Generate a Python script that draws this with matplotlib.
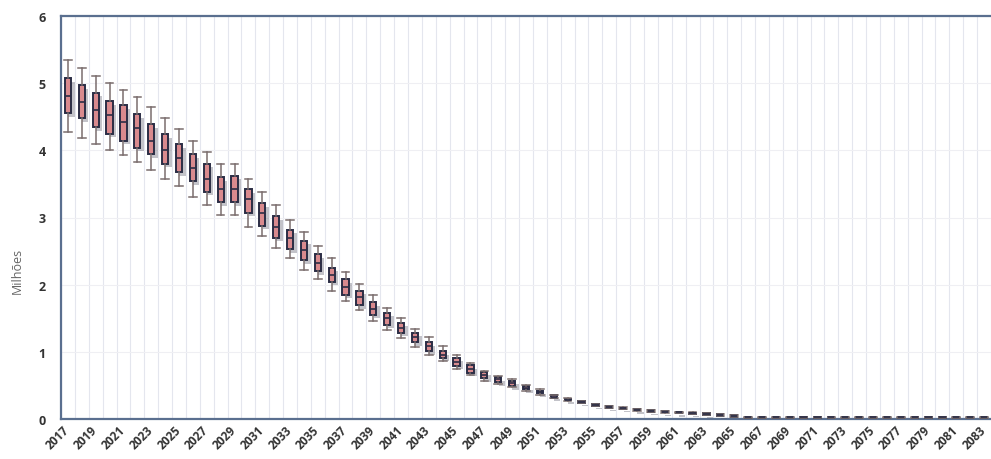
import matplotlib
matplotlib.use("Agg")
import matplotlib.pyplot as plt
import matplotlib.patheffects as pe
import matplotlib.transforms as mtransforms
import numpy as np

years = list(range(2017, 2084))

whislo = [4.28, 4.19, 4.10, 4.00, 3.93, 3.83, 3.71, 3.58, 3.47, 3.30,
          3.19, 3.03, 3.03, 2.86, 2.72, 2.55, 2.40, 2.22, 2.09, 1.91,
          1.75, 1.62, 1.46, 1.32, 1.20, 1.07, 0.96, 0.86, 0.75, 0.65,
          0.57, 0.52, 0.47, 0.42, 0.36, 0.31, 0.27, 0.232, 0.195, 0.165,
          0.145, 0.125, 0.108, 0.095, 0.085, 0.073, 0.06, 0.05, 0.035] + [0.015] * 18
q1 = [4.55, 4.48, 4.34, 4.25, 4.14, 4.04, 3.94, 3.80, 3.67, 3.54,
      3.38, 3.23, 3.23, 3.07, 2.88, 2.70, 2.53, 2.36, 2.20, 2.04,
      1.85, 1.69, 1.55, 1.40, 1.28, 1.14, 1.01, 0.91, 0.79, 0.69,
      0.61, 0.55, 0.49, 0.44, 0.38, 0.32, 0.28, 0.238, 0.2, 0.17,
      0.15, 0.13, 0.11, 0.098, 0.088, 0.075, 0.062, 0.052, 0.037] + [0.016] * 18
med = [4.81, 4.72, 4.60, 4.52, 4.42, 4.33, 4.14, 4.00, 3.89, 3.74,
       3.58, 3.42, 3.43, 3.27, 3.06, 2.86, 2.69, 2.51, 2.33, 2.14,
       1.97, 1.81, 1.64, 1.50, 1.35, 1.22, 1.08, 0.96, 0.85, 0.75,
       0.66, 0.59, 0.53, 0.46, 0.40, 0.33, 0.29, 0.25, 0.21, 0.18,
       0.16, 0.14, 0.12, 0.108, 0.098, 0.085, 0.072, 0.061, 0.046] + [0.025] * 18
q3 = [5.07, 4.97, 4.86, 4.73, 4.67, 4.54, 4.39, 4.24, 4.09, 3.94,
      3.80, 3.60, 3.62, 3.42, 3.21, 3.02, 2.82, 2.65, 2.45, 2.25,
      2.08, 1.91, 1.74, 1.58, 1.43, 1.28, 1.14, 1.01, 0.91, 0.80,
      0.70, 0.62, 0.57, 0.49, 0.42, 0.35, 0.305, 0.262, 0.22, 0.19,
      0.17, 0.15, 0.13, 0.118, 0.108, 0.095, 0.082, 0.07, 0.055] + [0.034] * 18
whishi = [5.35, 5.23, 5.11, 5.00, 4.90, 4.79, 4.65, 4.48, 4.32, 4.14,
          3.97, 3.80, 3.80, 3.58, 3.38, 3.19, 2.97, 2.79, 2.57, 2.40,
          2.19, 2.01, 1.84, 1.66, 1.50, 1.34, 1.22, 1.08, 0.96, 0.84,
          0.72, 0.64, 0.59, 0.51, 0.44, 0.36, 0.31, 0.265, 0.222, 0.192,
          0.172, 0.152, 0.132, 0.12, 0.11, 0.097, 0.084, 0.072, 0.057] + [0.035] * 18

ylabel = "Milhões"

plt.rcParams['font.family'] = ['Open Sans', 'DejaVu Sans']

fig = plt.figure(figsize=(9.91, 4.60), dpi=100)
ax = fig.add_axes([61 / 991, 1 - 420 / 460, 930 / 991, 403 / 460])

stats = []
for i, y in enumerate(years):
    stats.append(dict(med=med[i], q1=q1[i], q3=q3[i],
                      whislo=whislo[i], whishi=whishi[i], fliers=[], label=str(y)))

positions = np.arange(len(years))
res = ax.bxp(stats, positions=positions, widths=0.45, patch_artist=True,
             showfliers=False,
             boxprops=dict(facecolor='#d98a8e', edgecolor='#2b2d45', linewidth=1.4),
             medianprops=dict(color='#2b2d45', linewidth=1.2),
             whiskerprops=dict(color='#7a6d6d', linewidth=1.1),
             capprops=dict(color='#7a6d6d', linewidth=1.1),
             capwidths=0.55, zorder=3)
for b in res['boxes']:
    b.set_path_effects([pe.SimplePatchShadow(offset=(2.5, -2.5), shadow_rgbFace='#555566', alpha=0.35),
                        pe.Normal()])

ax.set_xlim(-0.5, len(years) - 0.5)
ax.set_ylim(0, 6)
ax.set_yticks(range(0, 7))
ax.set_xticks(positions[::2])
ax.set_xticklabels([str(y) for y in years[::2]], rotation=45, ha='right',
                   rotation_mode='anchor', fontsize=8.5, fontweight='bold', color='#333333')
ax.tick_params(axis='y', labelsize=9, colors='#333333', length=0, pad=11)
for t in ax.get_yticklabels():
    t.set_fontweight('bold')
ax.tick_params(axis='x', length=0, pad=3)

ax.set_xticks(np.arange(-0.5, len(years), 1), minor=True)
ax.grid(False)
ax.xaxis.grid(True, which='minor', color='#e4e6ee', linewidth=0.8)
ax.yaxis.grid(True, which='major', color='#efeff3', linewidth=0.8)
ax.tick_params(which='minor', length=0)
ax.set_axisbelow(True)

for s in ['left', 'top', 'bottom']:
    ax.spines[s].set_color('#5a6f8f')
    ax.spines[s].set_linewidth(1.6)
ax.spines['right'].set_visible(False)

ax.set_ylabel(ylabel, fontsize=9, color='#666666')
ax.yaxis.set_label_coords(-0.04, 0.37)

fig.canvas.draw()
offset = mtransforms.ScaledTranslation(-5 / 100, 0, fig.dpi_scale_trans)
for tk in ax.xaxis.get_major_ticks():
    tk.label1.set_transform(tk.label1.get_transform() + offset)

fig.savefig("out.png", dpi=100)
